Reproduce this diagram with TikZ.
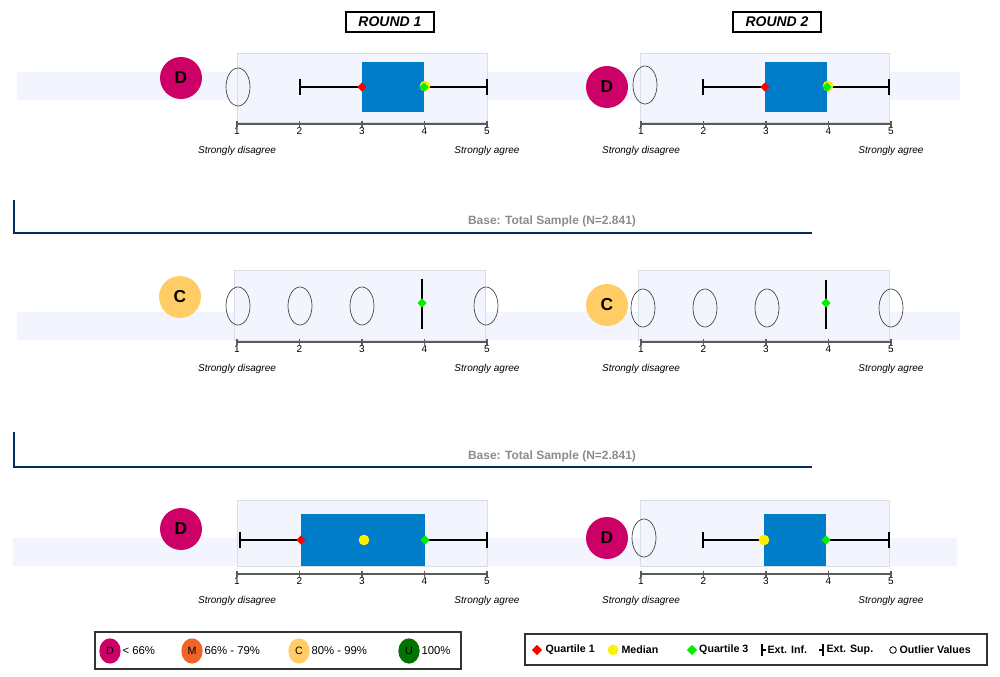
\documentclass[tikz,border=0pt]{standalone}
\usepackage{fontspec}
\setmainfont{Liberation Sans}
\usetikzlibrary{positioning, shapes.geometric, calc}
\definecolor{bandcolor}{RGB}{242, 245, 253}
\definecolor{boxcolor}{RGB}{0, 125, 200}
\definecolor{dcolor}{RGB}{204, 0, 102}
\definecolor{mcolor}{RGB}{240, 100, 40}
\definecolor{ccolor}{RGB}{255, 204, 102}
\definecolor{ucolor}{RGB}{0, 115, 0}
\definecolor{q1color}{RGB}{255, 0, 0}
\definecolor{medcolor}{RGB}{255, 240, 0}
\definecolor{q3color}{RGB}{0, 240, 0}
\definecolor{basecolor}{RGB}{0, 45, 95}
\definecolor{axiscolor}{RGB}{90, 90, 90}

% axis with ticks, labels and end texts
\newcommand{\scaleaxis}[2]{%
  \draw[scaleline] (#1,#2) -- ++(250,0);
  \foreach \i in {1,...,5}
    \draw[scaleline] ({#1+62.5*(\i-1)},#2-3) -- ++(0,6)
      node[below=0pt, lbl, font=\fontsize{7.5}{8}\selectfont] {\i};
  \node[lbl] at (#1,#2+27) {Strongly disagree};
  \node[lbl] at ({#1+250},#2+27) {Strongly agree};
}

\begin{document}
\begin{tikzpicture}[x=0.75pt, y=-0.75pt,
    bandfill/.style={fill=bandcolor, draw=none},
    panelfill/.style={fill=bandcolor, draw=bandcolor!80!gray, line width=0.3pt},
    qbox/.style={fill=boxcolor, draw=none},
    grade/.style={circle, minimum size=31.5pt, inner sep=0pt, font=\fontsize{13}{14}\selectfont\bfseries},
    outlier/.style={ellipse, draw=black!75, minimum width=18pt, minimum height=28.5pt, inner sep=0pt, line width=0.5pt},
    whisker/.style={line width=1.2pt},
    endcap/.style={line width=2pt},
    qmark/.style={diamond, inner sep=0pt, minimum size=7pt},
    meddot/.style={circle, inner sep=0pt, minimum size=8pt},
    scaleline/.style={draw=axiscolor, line width=1pt},
    lbl/.style={font=\fontsize{7.5}{8}\selectfont\itshape, inner sep=0pt},
    roundtitle/.style={draw, line width=0.8pt, minimum width=66pt, minimum height=15pt, font=\fontsize{10.5}{11}\selectfont\bfseries\itshape},
    sepline/.style={draw=basecolor, line width=1.5pt},
    basetext/.style={text=black!45, font=\fontsize{9}{10}\selectfont\bfseries},
    legframe/.style={draw=black!80, line width=1.2pt},
    legdot/.style={ellipse, minimum width=16pt, minimum height=19pt, inner sep=0pt, font=\fontsize{8}{9}\selectfont},
    legtext/.style={font=\fontsize{8.5}{9}\selectfont, inner sep=1pt, anchor=west},
]
\useasboundingbox (0,0) rectangle (1000,677);

% ============ Titles ============
\node[roundtitle] (round1) at (390,22) {ROUND 1};
\node[roundtitle] (round2) at (777,22) {ROUND 2};

% ============ Row 1 ============
\fill[bandfill] (17,72) rectangle (960,100);
\fill[panelfill] (237,53) rectangle (487,122);
\fill[panelfill] (640,53) rectangle (889,122);
\scaleaxis{237}{124}
\scaleaxis{641}{124}
% left
\node[grade, fill=dcolor] (g1a) at (181,78) {D};
\node[outlier] (o1a) at (238,87) {};
\coordinate (w1a) at (300,87); \coordinate (e1a) at (487,87);
\draw[whisker] (w1a) -- (e1a);
\draw[endcap] ($(w1a)+(0,-8)$) -- ($(w1a)+(0,8)$);
\draw[endcap] ($(e1a)+(0,-8)$) -- ($(e1a)+(0,8)$);
\fill[qbox] (362,62) rectangle (424,112);
\node[qmark, fill=q1color] (q1a) at (362,87) {};
\node[meddot, fill=medcolor] (m1a) at (425,86) {};
\node[qmark, fill=q3color] (q3a) at (424,87) {};
% right
\node[grade, fill=dcolor] (g1b) at (607,87) {D};
\node[outlier] (o1b) at (645,85) {};
\coordinate (w1b) at (703,87); \coordinate (e1b) at (889,87);
\draw[whisker] (w1b) -- (e1b);
\draw[endcap] ($(w1b)+(0,-8)$) -- ($(w1b)+(0,8)$);
\draw[endcap] ($(e1b)+(0,-8)$) -- ($(e1b)+(0,8)$);
\fill[qbox] (765,62) rectangle (827,112);
\node[qmark, fill=q1color] (q1b) at (765,87) {};
\node[meddot, fill=medcolor] (m1b) at (828,86) {};
\node[qmark, fill=q3color] (q3b) at (827,87) {};

% ============ Separator 1 ============
\coordinate (s1top) at (14,200); \coordinate (s1corner) at (14,233); \coordinate (s1end) at (812,233);
\draw[sepline] (s1top) -- (s1corner) -- (s1end);
\node[basetext] (base1) at (552,221) {Base: Total Sample (N=2.841)};

% ============ Row 2 ============
\fill[bandfill] (17,312) rectangle (960,340);
\fill[panelfill] (234,270) rectangle (485,340);
\fill[panelfill] (638,270) rectangle (889,340);
\scaleaxis{237}{342}
\scaleaxis{641}{342}
% left
\node[grade, fill=ccolor] (g2a) at (180,297) {C};
\foreach \x [count=\k] in {238,300,362,486}
  \node[outlier] (o2a\k) at (\x,306) {};
\coordinate (t2a) at (422,279); \coordinate (b2a) at (422,329);
\draw[endcap] (t2a) -- (b2a);
\node[qmark, fill=q3color] (q3c) at (422,303) {};
% right
\node[grade, fill=ccolor] (g2b) at (607,305) {C};
\foreach \x [count=\k] in {643,705,767,891}
  \node[outlier] (o2b\k) at (\x,308) {};
\coordinate (t2b) at (826,280); \coordinate (b2b) at (826,329);
\draw[endcap] (t2b) -- (b2b);
\node[qmark, fill=q3color] (q3d) at (826,303) {};

% ============ Separator 2 ============
\coordinate (s2top) at (14,432); \coordinate (s2corner) at (14,467); \coordinate (s2end) at (812,467);
\draw[sepline] (s2top) -- (s2corner) -- (s2end);
\node[basetext] (base2) at (552,456) {Base: Total Sample (N=2.841)};

% ============ Row 3 ============
\fill[bandfill] (13,538) rectangle (957,566);
\fill[panelfill] (237,500) rectangle (487,566);
\fill[panelfill] (640,500) rectangle (889,566);
\scaleaxis{237}{574}
\scaleaxis{641}{574}
% left
\node[grade, fill=dcolor] (g3a) at (181,529) {D};
\coordinate (w3a) at (240,540); \coordinate (e3a) at (487,540);
\draw[whisker] (w3a) -- (e3a);
\draw[endcap] ($(w3a)+(0,-8)$) -- ($(w3a)+(0,8)$);
\draw[endcap] ($(e3a)+(0,-8)$) -- ($(e3a)+(0,8)$);
\fill[qbox] (301,514) rectangle (425,566);
\node[qmark, fill=q1color] (q1e) at (301,540) {};
\node[meddot, fill=medcolor] (m3a) at (364,540) {};
\node[qmark, fill=q3color] (q3e) at (425,540) {};
% right
\node[grade, fill=dcolor] (g3b) at (607,538) {D};
\node[outlier] (o3b) at (644,538) {};
\coordinate (w3b) at (703,540); \coordinate (e3b) at (889,540);
\draw[whisker] (w3b) -- (e3b);
\draw[endcap] ($(w3b)+(0,-8)$) -- ($(w3b)+(0,8)$);
\draw[endcap] ($(e3b)+(0,-8)$) -- ($(e3b)+(0,8)$);
\fill[qbox] (764,514) rectangle (826,566);
\node[meddot, fill=medcolor] (m3b) at (764,540) {};
\node[qmark, fill=q3color] (q3f) at (826,540) {};

% ============ Legends ============
\draw[legframe] (95,632) rectangle (461,669);
\node[legdot, fill=dcolor] (ld) at (110,651) {D};
\node[legtext, right=0pt of ld] {< 66\%};
\node[legdot, fill=mcolor] (lm) at (192,651) {M};
\node[legtext, right=0pt of lm] {66\% - 79\%};
\node[legdot, fill=ccolor] (lc) at (299,651) {C};
\node[legtext, right=0pt of lc] {80\% - 99\%};
\node[legdot, fill=ucolor] (lu) at (409,651) {U};
\node[legtext, right=0pt of lu] {100\%};

\draw[legframe] (525,634) rectangle (987,665);
\node[qmark, fill=q1color, minimum size=8pt] (lq1) at (537,650) {};
\node[legtext, font=\fontsize{8}{9}\selectfont\bfseries, right=1pt of lq1] {Quartile 1};
\node[meddot, fill=medcolor] (lmed) at (613,650) {};
\node[legtext, font=\fontsize{8}{9}\selectfont\bfseries, right=1pt of lmed] {Median};
\node[qmark, fill=q3color, minimum size=8pt] (lq3) at (692,650) {};
\node[legtext, font=\fontsize{8}{9}\selectfont\bfseries, right=0pt of lq3] {Quartile 3};
\coordinate (li) at (762,650);
\draw[line width=1pt] ($(li)+(0,-6)$) -- ($(li)+(0,6)$) (li) -- ++(4,0);
\node[legtext, font=\fontsize{8}{9}\selectfont\bfseries] at (766,650) {Ext. Inf.};
\coordinate (ls) at (823,650);
\draw[line width=1pt] ($(ls)+(0,-6)$) -- ($(ls)+(0,6)$) (ls) -- ++(-4,0);
\node[legtext, font=\fontsize{8}{9}\selectfont\bfseries] at (825,650) {Ext. Sup.};
\node[circle, draw, line width=0.6pt, minimum size=5pt, inner sep=0pt] (lo) at (893,650) {};
\node[legtext, font=\fontsize{8}{9}\selectfont\bfseries, right=1pt of lo] {Outlier Values};
\end{tikzpicture}
\end{document}
